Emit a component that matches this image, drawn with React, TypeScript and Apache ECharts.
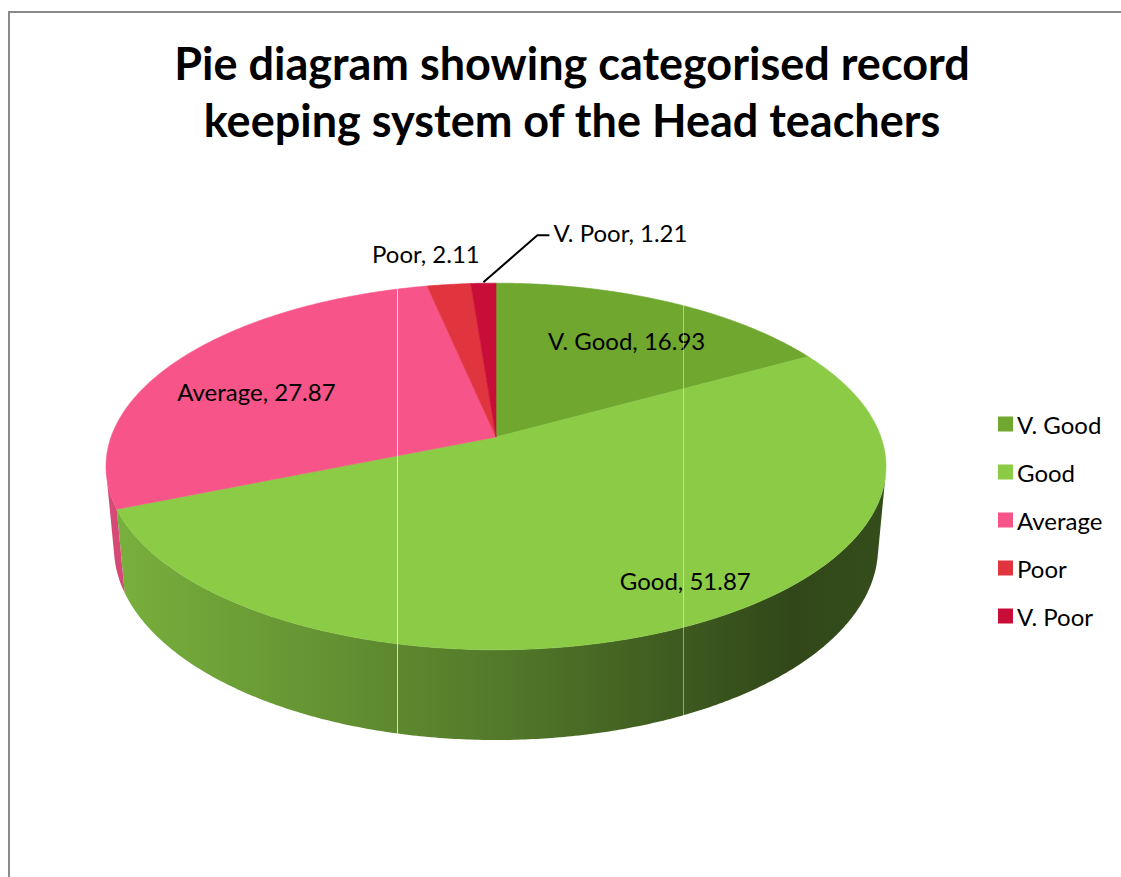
import React, { useEffect, useRef } from "react";
import * as echarts from "echarts";

// ---- data ----
const categories = ["V. Good", "Good", "Average", "Poor", "V. Poor"];
const values = [16.93, 51.87, 27.87, 2.11, 1.21];
const titleLines = ["Pie diagram showing categorised record", "keeping system of the Head teachers"];

// ---- style ----
const sliceColors = ["#6fa72f", "#8bcb46", "#f75589", "#e0353f", "#c80d38"];
const FONT = "Lato, 'Open Sans', sans-serif";
const LABEL_SIZE = 24;

// 3D projection of the pie (layout)
const CX = 496;
const CY = 437;
const FOCAL = 2122;
const DIST = 5.513;
const SIN_T = 0.464;
const COS_T = 0.886;
const THICK = 0.24;
const LABEL_R = 0.75;
// fine placement of labels: [dx, dy, outside]
const labelAdjust: [number, number, number][] = [
  [-2, 8, 0],
  [49, 8, 0],
  [2, 14, 0],
  [-23, -31, 1],
  [0, 0, 2],
];

const total = values.reduce((a, b) => a + b, 0);
const starts: number[] = [];
{
  let acc = 0;
  for (const v of values) {
    starts.push((acc / total) * Math.PI * 2);
    acc += v;
  }
}

function proj(phi: number, r: number, y: number): number[] {
  const X = r * Math.sin(phi);
  const Z = r * Math.cos(phi);
  const yc = y * COS_T + Z * SIN_T;
  const zc = DIST + Z * COS_T - y * SIN_T;
  return [CX + (FOCAL * X) / zc, CY - (FOCAL * yc) / zc];
}

function arc(a0: number, a1: number, r: number, y: number): number[][] {
  const step = (0.5 * Math.PI) / 180;
  const n = Math.max(2, Math.ceil((a1 - a0) / step));
  const pts: number[][] = [];
  for (let k = 0; k <= n; k++) pts.push(proj(a0 + ((a1 - a0) * k) / n, r, y));
  return pts;
}

function shade(hex: string, f: number): string {
  const n = parseInt(hex.slice(1), 16);
  const r = Math.round(((n >> 16) & 255) * f);
  const g = Math.round(((n >> 8) & 255) * f);
  const b = Math.round((n & 255) * f);
  return `rgb(${r},${g},${b})`;
}

// visible range of outer wall
const wallLimit = Math.acos(-1 / (DIST * COS_T));
const wallFrom = wallLimit;
const wallTo = Math.PI * 2 - wallLimit;

function makeRenderItem(i: number) {
  return (params: any, api: any) => {
    const v = api.value(0);
    const a0 = starts[i];
    const a1 = a0 + (v / total) * Math.PI * 2;
    const color = sliceColors[i];
    const children: any[] = [];
    const ws = Math.max(a0, wallFrom);
    const we = Math.min(a1, wallTo);
    if (we > ws) {
      const top = arc(ws, we, 1, 0);
      const bot = arc(ws, we, 1, -THICK).reverse();
      children.push({
        type: "polygon",
        z2: 1,
        shape: { points: top.concat(bot) },
        style: {
          fill: {
            type: "linear",
            x: 105,
            y: 0,
            x2: 886,
            y2: 0,
            global: true,
            colorStops: [
              { offset: 0, color: shade(color, 0.87) },
              { offset: 0.25, color: shade(color, 0.74) },
              { offset: 0.5, color: shade(color, 0.6) },
              { offset: 0.88, color: shade(color, 0.35) },
              { offset: 1, color: shade(color, 0.38) },
            ],
          },
          stroke: null,
        },
      });
    }
    const topPts = [proj(0, 0, 0)].concat(arc(a0, a1, 1, 0));
    children.push({
      type: "polygon",
      z2: 5,
      shape: { points: topPts },
      style: { fill: color, stroke: color, lineWidth: 0.6 },
    });

    const mid = (a0 + a1) / 2;
    const adj = labelAdjust[i];
    const text = `${categories[i]}, ${v}`;
    if (adj[2] === 0) {
      const p = proj(mid, LABEL_R, 0);
      children.push({
        type: "text",
        z2: 20,
        style: {
          text,
          x: p[0] + adj[0],
          y: p[1] + adj[1],
          align: "center",
          verticalAlign: "middle",
          fill: "#000",
          font: `${LABEL_SIZE}px ${FONT}`,
        },
      });
    } else if (adj[2] === 1) {
      const p = proj(mid, 1, 0);
      children.push({
        type: "text",
        z2: 20,
        style: {
          text,
          x: p[0] + adj[0],
          y: p[1] + adj[1],
          align: "center",
          verticalAlign: "middle",
          fill: "#000",
          font: `${LABEL_SIZE}px ${FONT}`,
        },
      });
    } else {
      const p = proj(mid, 1, 0);
      const bend = [p[0] + 54, p[1] - 48];
      const end = [bend[0] + 12, bend[1]];
      children.push({
        type: "polyline",
        z2: 20,
        shape: { points: [[p[0], p[1] - 1], bend, end] },
        style: { stroke: "#000", lineWidth: 2, fill: null },
      });
      children.push({
        type: "text",
        z2: 20,
        style: {
          text,
          x: end[0] + 4,
          y: end[1] - 3,
          align: "left",
          verticalAlign: "middle",
          fill: "#000",
          font: `${LABEL_SIZE}px ${FONT}`,
        },
      });
    }
    return { type: "group", children };
  };
}

export default function App() {
  const ref = useRef<HTMLDivElement>(null);
  useEffect(() => {
    if (!ref.current) return;
    const chart = echarts.init(ref.current, undefined, { renderer: "svg" });
    const option: any = {
      animation: false,
      backgroundColor: "#ffffff",
      color: sliceColors,
      title: {
        text: titleLines.join("\n"),
        left: 567,
        top: 29,
        textAlign: "center",
        textStyle: {
          fontFamily: FONT,
          fontWeight: "bold",
          fontSize: 45,
          lineHeight: 57,
          color: "#000",
        },
      },
      legend: {
        orient: "vertical",
        left: 998,
        top: 412,
        padding: 0,
        icon: "rect",
        itemWidth: 15,
        itemHeight: 15,
        itemGap: 24,
        data: categories,
        textStyle: { fontFamily: FONT, fontSize: LABEL_SIZE, color: "#000", lineHeight: 24, padding: [0, 0, 0, -1] },
      },
      graphic: [
        {
          type: "rect",
          z: 10,
          shape: { x: 9, y: 12, width: 1300, height: 1000 },
          style: { fill: null, stroke: "#8a8a8a", lineWidth: 2 },
        },
        {
          type: "line",
          z: 3,
          shape: { x1: 397.5, y1: 280, x2: 397.5, y2: 745 },
          style: { stroke: "rgba(255,255,255,0.75)", lineWidth: 1 },
        },
        {
          type: "line",
          z: 3,
          shape: { x1: 683.5, y1: 280, x2: 683.5, y2: 745 },
          style: { stroke: "rgba(255,255,255,0.45)", lineWidth: 1 },
        },
      ],
      series: categories.map((name, i) => ({
        type: "custom",
        name,
        coordinateSystem: "none",
        itemStyle: { color: sliceColors[i] },
        renderItem: makeRenderItem(i),
        data: [[values[i]]],
      })),
    };
    chart.setOption(option);
    return () => chart.dispose();
  }, []);
  return (
    <div
      ref={ref}
      style={{ position: "absolute", left: 0, top: 0, width: 1121, height: 877 }}
    />
  );
}
